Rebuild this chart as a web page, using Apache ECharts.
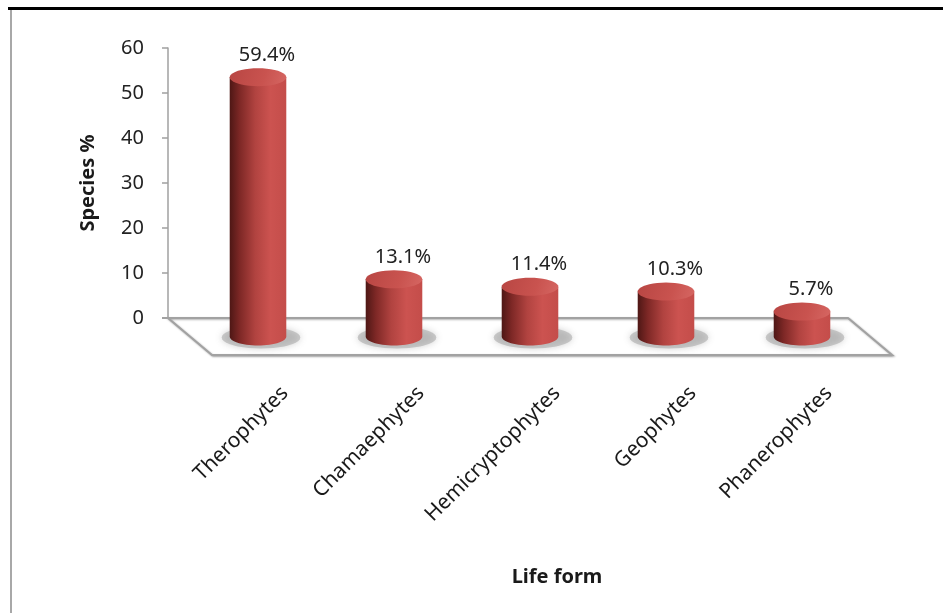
<!DOCTYPE html>
<html><head><meta charset="utf-8">
<script src="https://cdn.jsdelivr.net/npm/echarts@6/dist/echarts.min.js"></script>
<style>html,body{margin:0;padding:0;background:#fff}#c{width:943px;height:613px}</style>
</head><body><div id="c"></div>
<script>
// ---- data ----
const categories = ['Therophytes', 'Chamaephytes', 'Hemicryptophytes', 'Geophytes', 'Phanerophytes'];
const speciesPct = [59.4, 13.1, 11.4, 10.3, 5.7];
const yAxisMin = 0, yAxisMax = 60, yAxisStep = 10;

// ---- layout / style ----
const FONT = '"Noto Sans", "Open Sans", sans-serif';
const GRID_LEFT = 168, GRID_TOP = 48, GRID_W = 680, GRID_H = 270;
const DEPTH_X = 44, DEPTH_Y = 37;
const LABEL_SHIFT = 49;

function ellipsePts(cx, cy, rx, ry, a0, a1, n) {
  const pts = [];
  for (let k = 0; k <= n; k++) {
    const a = a0 + (a1 - a0) * k / n;
    pts.push([cx + rx * Math.cos(a), cy + ry * Math.sin(a)]);
  }
  return pts;
}

function renderFloor(params, api) {
  const cs = params.coordSys;
  const y0 = cs.y + cs.height;
  const pts = [[cs.x, y0], [cs.x + cs.width, y0], [cs.x + cs.width + DEPTH_X, y0 + DEPTH_Y], [cs.x + DEPTH_X, y0 + DEPTH_Y]];
  return {
    type: 'group',
    children: [
      { type: 'polygon', shape: { points: pts },
        style: { fill: '#ffffff', stroke: '#a2a2a2', lineWidth: 2, shadowBlur: 2, shadowColor: 'rgba(0,0,0,0.3)', shadowOffsetX: 1, shadowOffsetY: 1 } },
      { type: 'line', shape: { x1: cs.x - 6, y1: y0, x2: cs.x, y2: y0 }, style: { stroke: '#a2a2a2', lineWidth: 2 } }
    ]
  };
}

function renderCylinder(params, api) {
  const i = api.value(0), v = api.value(1);
  const base = api.coord([i, 0]);
  const top = api.coord([i, v]);
  const bw = api.size([1, 0])[0];
  const cx = base[0] + DEPTH_X / 2;
  const by = base[1] + DEPTH_Y / 2;
  const ty = by - (base[1] - top[1]) * 0.97;
  const rx = bw * 0.208, ry = 9;
  const body = [[cx - rx, ty]].concat(ellipsePts(cx, by, rx, ry, Math.PI, 0, 30)).concat([[cx + rx, ty]]);
  body.splice(1, 0, [cx - rx, by]);
  const shadow = ellipsePts(cx + 3, by + 1, rx + 11, ry + 2, 0, Math.PI * 2, 40);
  const topE = ellipsePts(cx, ty, rx, ry, 0, Math.PI * 2, 40);
  return {
    type: 'group',
    children: [
      { type: 'polygon', shape: { points: shadow },
        style: { fill: 'rgba(150,150,150,0.45)', shadowBlur: 7, shadowColor: 'rgba(90,90,90,0.6)' } },
      { type: 'polygon', shape: { points: body },
        style: { fill: { type: 'linear', x: 0, y: 0, x2: 1, y2: 0, colorStops: [
          { offset: 0, color: '#4e1715' }, { offset: 0.18, color: '#7e2826' },
          { offset: 0.45, color: '#b14340' }, { offset: 0.72, color: '#cc5350' }, { offset: 1, color: '#c44d4a' } ] } } },
      { type: 'polygon', shape: { points: topE },
        style: { fill: { type: 'linear', x: 0, y: 0, x2: 1, y2: 1, colorStops: [
          { offset: 0, color: '#b84643' }, { offset: 0.6, color: '#c9534f' }, { offset: 1, color: '#d66763' } ] } } },
      { type: 'text', x: cx + 9, y: ty - ry - 13,
        style: { text: v.toFixed(1) + '%', align: 'center', verticalAlign: 'middle', fontSize: 20, fontFamily: FONT, fill: '#222' } }
    ]
  };
}

const chart = echarts.init(document.getElementById('c'), null, { renderer: 'canvas' });
chart.setOption({
  backgroundColor: '#ffffff',
  animation: false,
  graphic: [
    { type: 'rect', shape: { x: 8, y: 7, width: 935, height: 3 }, style: { fill: '#000' } },
    { type: 'rect', shape: { x: 10, y: 10, width: 2, height: 603 }, style: { fill: '#a8a8a8' } }
  ],
  grid: [
    { left: GRID_LEFT, top: GRID_TOP, width: GRID_W, height: GRID_H },
    { left: GRID_LEFT + LABEL_SHIFT, top: GRID_TOP, width: GRID_W, height: GRID_H }
  ],
  xAxis: [
    { type: 'category', gridIndex: 0, data: categories, axisLine: { show: false }, axisTick: { show: false }, axisLabel: { show: false } },
    { type: 'category', gridIndex: 1, data: categories, axisLine: { show: false }, axisTick: { show: false },
      axisLabel: { rotate: 45, margin: 72, interval: 0, fontSize: 21, fontFamily: FONT, color: '#1a1a1a' },
      name: 'Life form', nameLocation: 'middle', nameGap: 249,
      nameTextStyle: { fontSize: 20, fontWeight: 'bold', fontFamily: FONT, color: '#1a1a1a' } }
  ],
  yAxis: [
    { type: 'value', gridIndex: 0, min: yAxisMin, max: yAxisMax, interval: yAxisStep,
      axisLine: { show: true, lineStyle: { color: '#a0a0a0', width: 1.5 } },
      axisTick: { show: true, length: 6, lineStyle: { color: '#a0a0a0', width: 1.5 } },
      splitLine: { show: false },
      axisLabel: { margin: 24, fontSize: 20, fontFamily: FONT, color: '#222' },
      name: 'Species %', nameLocation: 'middle', nameGap: 70,
      nameTextStyle: { fontSize: 20, fontWeight: 'bold', fontFamily: FONT, color: '#1a1a1a' } },
    { type: 'value', gridIndex: 1, min: yAxisMin, max: yAxisMax, show: false }
  ],
  series: [
    { type: 'custom', xAxisIndex: 0, yAxisIndex: 0, clip: false, z: 1, silent: true,
      data: [[0, 0]], renderItem: renderFloor },
    { type: 'custom', xAxisIndex: 0, yAxisIndex: 0, clip: false, z: 2,
      data: categories.map((c, i) => [i, speciesPct[i]]), encode: { x: 0, y: 1 }, renderItem: renderCylinder }
  ]
});
</script>
</body></html>
